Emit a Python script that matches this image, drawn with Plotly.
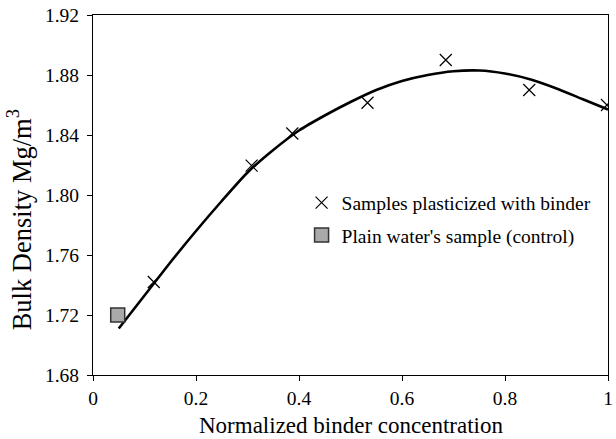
import plotly.graph_objects as go

# Data
sample_x = [0.118, 0.308, 0.387, 0.533, 0.685, 0.847, 0.998]
sample_y = [1.742, 1.8196, 1.841, 1.8615, 1.890, 1.870, 1.860]

control_x = [0.048]
control_y = [1.720]

fit_x = [0.05, 0.10, 0.15, 0.20, 0.25, 0.30, 0.35, 0.40, 0.45, 0.50, 0.55,
         0.60, 0.65, 0.70, 0.75, 0.80, 0.85, 0.90, 0.95, 1.0]
fit_y = [1.711, 1.733, 1.755, 1.776, 1.796, 1.815, 1.830, 1.843, 1.853, 1.862, 1.870,
         1.876, 1.880, 1.8825, 1.883, 1.881, 1.877, 1.871, 1.864, 1.857]

x_ticks = [0, 0.2, 0.4, 0.6, 0.8, 1]
x_tick_labels = ["0", "0.2", "0.4", "0.6", "0.8", "1"]
y_ticks = [1.68, 1.72, 1.76, 1.80, 1.84, 1.88, 1.92]
y_tick_labels = ["1.68", "1.72", "1.76", "1.80", "1.84", "1.88", "1.92"]

x_title = "Normalized binder concentration"
y_title = "Bulk Density Mg/m<sup>3</sup>"

FONT = "'Liberation Serif', 'Times New Roman', Times, serif"

fig = go.Figure()
fig.add_trace(go.Scatter(
    x=fit_x, y=fit_y, mode="lines", line=dict(color="black", width=2.6, shape="spline", smoothing=0.6),
    showlegend=False, hoverinfo="skip"))
fig.add_trace(go.Scatter(
    x=sample_x, y=sample_y, mode="markers", name="Samples plasticized with binder",
    legendgroup="a",
    marker=dict(symbol="x-thin", size=12, line=dict(color="black", width=1.2), color="black")))
fig.add_trace(go.Scatter(
    x=control_x, y=control_y, mode="markers", name="Plain water's sample (control)",
    legendgroup="b",
    marker=dict(symbol="square", size=14, color="#a9a9a9", line=dict(color="#333333", width=1.5))))

fig.update_layout(
    width=616, height=439,
    margin=dict(l=92.5, r=3.3, t=15, b=64),
    plot_bgcolor="white", paper_bgcolor="white",
    font=dict(family=FONT, size=19.5, color="black"),
    showlegend=True,
    legend=dict(x=0.405, y=0.532, xanchor="left", yanchor="top", bgcolor="rgba(0,0,0,0)",
                font=dict(family=FONT, size=19.5, color="black"), tracegroupgap=4),
    xaxis=dict(range=[0, 1], tickvals=x_ticks, ticktext=x_tick_labels,
               tickfont=dict(family=FONT, size=19.5, color="black"),
               showgrid=False, zeroline=False, showline=True, linecolor="black", linewidth=1.2,
               mirror=True, ticks="outside", ticklen=5, tickcolor="black"),
    yaxis=dict(range=[1.68, 1.92], tickvals=y_ticks, ticktext=y_tick_labels,
               tickfont=dict(family=FONT, size=19.5, color="black"),
               ticklabelstandoff=4,
               showgrid=False, zeroline=False, showline=True, linecolor="black", linewidth=1.2,
               mirror=True, ticks="outside", ticklen=5, tickcolor="black"),
    annotations=[
        dict(text=x_title, xref="paper", yref="paper", x=0.5, y=-0.139,
             xanchor="center", yanchor="middle", showarrow=False,
             font=dict(family=FONT, size=23, color="black")),
        dict(text=y_title, xref="paper", yref="paper", x=-0.142, y=0.432,
             xanchor="center", yanchor="middle", showarrow=False, textangle=-90,
             font=dict(family=FONT, size=26.5, color="black")),
    ],
)

fig.write_html("out.html")
